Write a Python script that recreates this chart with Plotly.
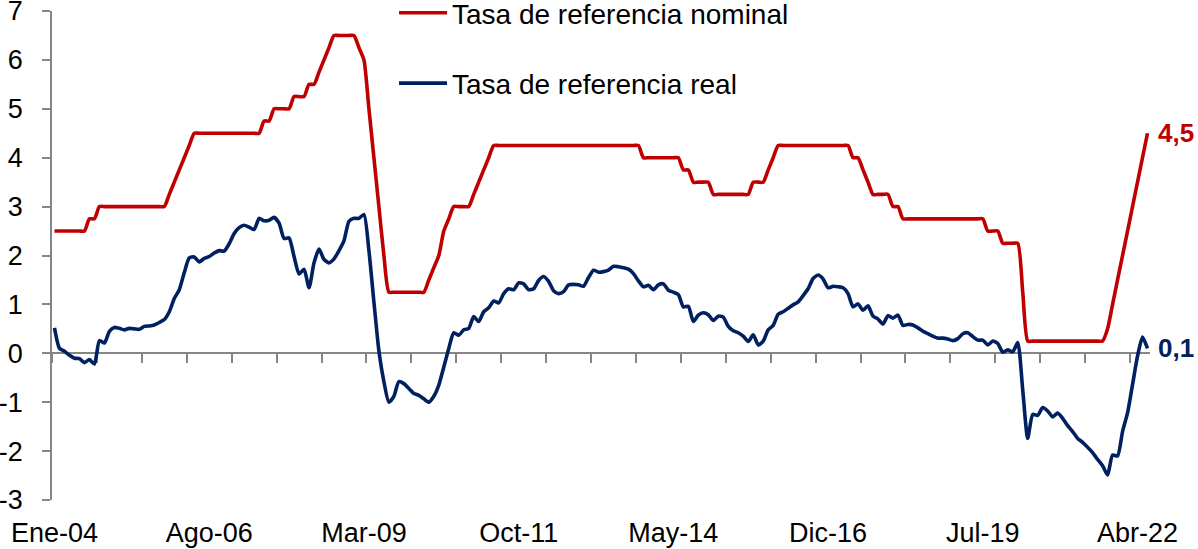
import plotly.graph_objects as go

# ---- data -------------------------------------------------------------
MESES = ["Ene", "Feb", "Mar", "Abr", "May", "Jun", "Jul", "Ago", "Sep", "Oct", "Nov", "Dic"]
categories = [f"{MESES[m]}-{str(y)[2:]}" for y in range(2004, 2023) for m in range(12)][:220]  # Ene-04 .. Abr-22

tick_labels = ["Ene-04", "Ago-06", "Mar-09", "Oct-11", "May-14", "Dic-16", "Jul-19", "Abr-22"]

nominal = (
    [2.5] * 7 + [2.75] * 2 + [3.0] * 14                       # 2004-2005
    + [3.25, 3.5, 3.75, 4.0, 4.25] + [4.5] * 14               # Dic-05 .. Jun-07
    + [4.75] * 2 + [5.0] * 4 + [5.25] * 3 + [5.5] * 2         # Jul-07 .. May-08
    + [5.75, 6.0, 6.25] + [6.5] * 5                           # Jun-08 .. Ene-09
    + [6.25, 6.0, 5.0, 4.0, 3.0, 2.0] + [1.25] * 8            # Feb-09 .. Mar-10
    + [1.5, 1.75, 2.0, 2.5, 2.75] + [3.0] * 4                 # Abr-10 .. Dic-10
    + [3.25, 3.5, 3.75, 4.0] + [4.25] * 30                    # Ene-11 .. Oct-13
    + [4.0] * 8 + [3.75] * 2 + [3.5] * 4 + [3.25] * 8         # Nov-13 .. Ago-15
    + [3.5] * 3 + [3.75, 4.0] + [4.25] * 15                   # Sep-15 .. Abr-17
    + [4.0] * 2 + [3.75] + [3.5] + [3.25] * 2                 # May-17 .. Oct-17
    + [3.25] * 2 + [3.0] * 2 + [2.75] * 17                    # Nov-17 .. Jul-19
    + [2.5] * 3 + [2.25] * 4 + [1.25] + [0.25] * 16           # Ago-19 .. Jul-21
    + [0.5, 1.0, 1.5, 2.0, 2.5, 3.0, 3.5, 4.0, 4.5]           # Ago-21 .. Abr-22
)

real = [
    0.52, 0.10, 0.04, -0.04, -0.10, -0.11, -0.19, -0.13, -0.22, 0.26,
    0.21, 0.45, 0.53, 0.51, 0.48, 0.51, 0.50, 0.49, 0.55, 0.56,
    0.58, 0.63, 0.69, 0.85, 1.12, 1.30, 1.65, 1.95, 1.97, 1.87,
    1.94, 1.98, 2.05, 2.10, 2.09, 2.24, 2.45, 2.57, 2.62, 2.58,
    2.53, 2.76, 2.71, 2.72, 2.78, 2.66, 2.35, 2.36, 1.98, 1.62,
    1.72, 1.34, 1.85, 2.13, 1.92, 1.85, 1.93, 2.10, 2.30, 2.70,
    2.76, 2.76, 2.84, 2.10, 1.05, 0.05, -0.58, -1.00, -0.88, -0.58,
    -0.62, -0.72, -0.82, -0.86, -0.93, -1.00, -0.88, -0.65, -0.28, 0.10,
    0.42, 0.37, 0.48, 0.51, 0.75, 0.65, 0.85, 0.93, 1.07, 1.03,
    1.22, 1.32, 1.30, 1.44, 1.42, 1.30, 1.32, 1.49, 1.57, 1.47,
    1.28, 1.22, 1.26, 1.40, 1.41, 1.40, 1.37, 1.55, 1.70, 1.66,
    1.67, 1.70, 1.78, 1.77, 1.75, 1.72, 1.63, 1.48, 1.36, 1.39,
    1.30, 1.40, 1.42, 1.29, 1.25, 1.20, 0.95, 0.96, 0.65, 0.78,
    0.83, 0.79, 0.67, 0.76, 0.74, 0.55, 0.46, 0.42, 0.35, 0.24,
    0.38, 0.17, 0.25, 0.48, 0.57, 0.80, 0.85, 0.92, 0.99, 1.05,
    1.18, 1.32, 1.53, 1.60, 1.52, 1.34, 1.37, 1.36, 1.34, 1.22,
    0.95, 1.01, 0.88, 0.97, 0.76, 0.70, 0.60, 0.77, 0.72, 0.78,
    0.57, 0.59, 0.58, 0.52, 0.45, 0.40, 0.35, 0.31, 0.31, 0.29,
    0.26, 0.30, 0.40, 0.42, 0.34, 0.27, 0.27, 0.17, 0.25, 0.20,
    0.02, 0.07, 0.03, 0.22, -0.75, -1.74, -1.25, -1.27, -1.11, -1.18,
    -1.30, -1.22, -1.33, -1.48, -1.60, -1.74, -1.82, -1.92, -2.03, -2.17,
    -2.30, -2.49, -2.08, -2.10, -1.60, -1.22, -0.64, -0.06, 0.33, 0.10,
]

series_names = ["Tasa de referencia nominal", "Tasa de referencia real"]
series_colors = ["#C00000", "#002060"]

y_ticks = list(range(-3, 8))
FONT = "Arial, Liberation Sans, sans-serif"

# ---- figure -----------------------------------------------------------
idx = list(range(len(categories)))
n = len(categories)
fig = go.Figure()
# nominal on the x axis that sits on the zero line, real on the bottom (labelled) x axis;
# both axes share the same range, so positions are identical
for name, vals, col, grp, xa in zip(series_names, [nominal, real], series_colors,
                                     ["a", "b"], ["x", "x2"]):
    fig.add_trace(go.Scatter(
        x=idx, y=vals, name=name, mode="lines", legendgroup=grp, xaxis=xa, yaxis="y",
        line=dict(color=col, width=3.6, shape="spline", smoothing=0.6),
        hovertext=categories, hoverinfo="text+y+name",
    ))

# end-value labels
for vals, col in zip([nominal, real], series_colors):
    fig.add_annotation(
        x=idx[-1], y=vals[-1], xref="x", yref="y",
        text=f"<b>{vals[-1]:.1f}</b>".replace(".", ","),
        showarrow=False, xanchor="left", yanchor="middle", xshift=8,
        font=dict(family=FONT, size=26, color=col),
    )

minor_ticks = [k - 0.5 for k in range(0, n, 9)]
label_pos = list(range(0, n, 31))

fig.update_layout(
    width=1198, height=549,
    margin=dict(l=52, r=48, t=11, b=49, autoexpand=False),
    paper_bgcolor="white", plot_bgcolor="white",
    font=dict(family=FONT, size=27, color="black"),
    showlegend=True,
    legend=dict(
        x=0.3115, y=1.047, xanchor="left", yanchor="top",
        font=dict(family=FONT, size=28, color="black"),
        traceorder="grouped", tracegroupgap=31,
        bgcolor="rgba(0,0,0,0)", itemwidth=48,
    ),
    xaxis=dict(
        range=[-0.5, n - 0.5], anchor="free", position=0.3, automargin=False,
        showline=True, linecolor="#868686", linewidth=1.5,
        ticks="outside", ticklen=9, tickwidth=1.5, tickcolor="#868686",
        tickmode="array", tickvals=minor_ticks, showticklabels=False,
        showgrid=False, zeroline=False, layer="below traces",
    ),
    xaxis2=dict(
        overlaying="x", anchor="y", side="bottom", automargin=False,
        range=[-0.5, n - 0.5], showline=False, ticks="",
        tickmode="array", tickvals=label_pos, ticktext=tick_labels,
        tickfont=dict(family=FONT, size=27, color="black"),
        ticklabelstandoff=14, ticklabeloverflow="allow",
        showgrid=False, zeroline=False,
    ),
    yaxis=dict(
        range=[-3, 7], showline=True, linecolor="#868686", linewidth=1.5,
        ticks="outside", ticklen=8, tickwidth=1.5, tickcolor="#868686",
        tickmode="array", tickvals=y_ticks, ticktext=[str(v) for v in y_ticks],
        tickfont=dict(family=FONT, size=27, color="black"),
        ticklabelstandoff=14, ticklabeloverflow="allow", automargin=False,
        showgrid=False, zeroline=False,
    ),
)

fig.write_html("out.html", config={"displayModeBar": False},
               post_script="document.body.style.margin='0px';")
